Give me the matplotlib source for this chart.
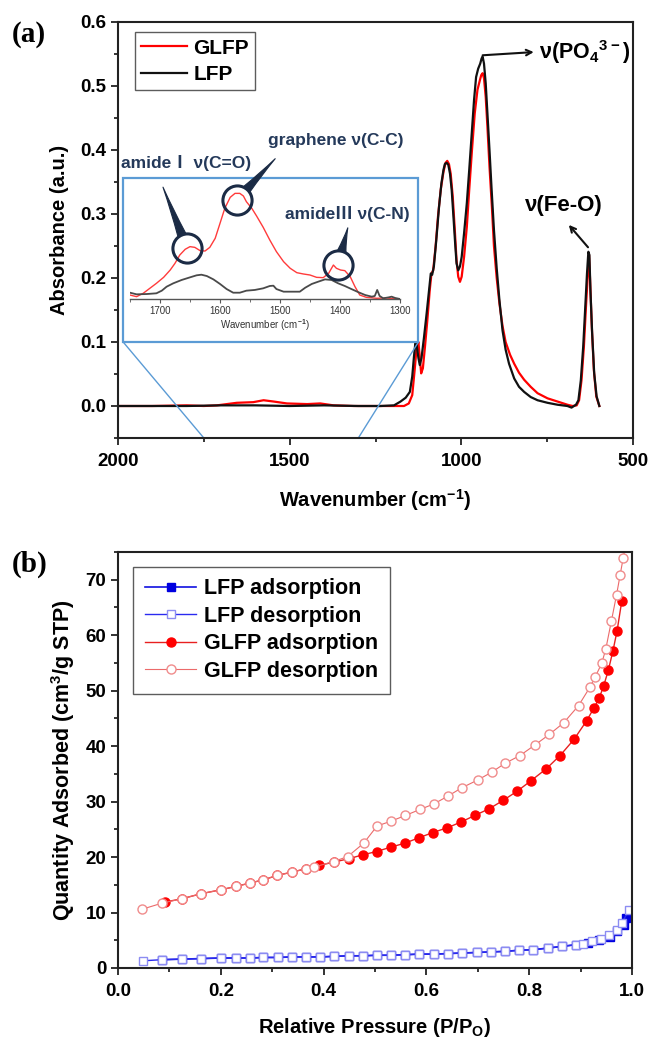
import numpy as np
import matplotlib
matplotlib.use('Agg')
import matplotlib.pyplot as plt
from matplotlib.patches import Rectangle
from matplotlib.ticker import MultipleLocator

plt.rcParams['font.family'] = ['Liberation Sans', 'Noto Sans CJK SC']
plt.rcParams['font.weight'] = 'bold'
plt.rcParams['mathtext.fontset'] = 'custom'
plt.rcParams['mathtext.bf'] = 'Liberation Sans:bold'
plt.rcParams['mathtext.rm'] = 'Liberation Sans:bold'
plt.rcParams['mathtext.default'] = 'bf'

# ---- (a) FTIR spectra ----
lfp_wn = [2000, 1900, 1800, 1700, 1600, 1500, 1400, 1300, 1235, 1196, 1177, 1162, 1150, 1143,
          1138, 1134, 1130, 1125, 1121, 1116, 1109, 1101, 1094, 1089, 1085, 1080, 1073, 1065,
          1058, 1052, 1048, 1043, 1038, 1033, 1028, 1023, 1018, 1014, 1009, 1004, 999, 992,
          984, 977, 969, 963, 957, 951, 945, 941, 938, 934, 929, 924, 918, 912, 905, 897,
          889, 880, 871, 861, 846, 832, 817, 798, 778, 749, 720, 691, 679, 666, 659, 652,
          645, 639, 634, 630, 627, 624, 619, 613, 606, 598]
lfp_abs = [0.0, 0.0, 0.0, 0.001, 0.001, 0.0, 0.001, 0.0, 0.0, 0.001, 0.007, 0.013, 0.022, 0.046,
           0.077, 0.098, 0.095, 0.075, 0.064, 0.075, 0.106, 0.145, 0.181, 0.207, 0.205, 0.218,
           0.259, 0.311, 0.348, 0.369, 0.378, 0.38, 0.377, 0.363, 0.337, 0.296, 0.254, 0.223,
           0.212, 0.218, 0.233, 0.27, 0.317, 0.369, 0.431, 0.478, 0.514, 0.527, 0.535, 0.543,
           0.546, 0.535, 0.504, 0.457, 0.4, 0.34, 0.275, 0.215, 0.165, 0.118, 0.088, 0.066,
           0.043, 0.03, 0.022, 0.014, 0.009, 0.005, 0.002, 0.0, -0.0025, 0.002, 0.009, 0.04,
           0.093, 0.155, 0.207, 0.241, 0.236, 0.181, 0.114, 0.051, 0.015, 0.0]

glfp_wn = [2000, 1900, 1800, 1750, 1712, 1654, 1606, 1576, 1547, 1508, 1449, 1411, 1372, 1314,
           1235, 1187, 1167, 1153, 1143, 1136, 1130, 1125, 1122, 1117, 1112, 1106, 1099, 1092,
           1087, 1082, 1075, 1068, 1060, 1052, 1046, 1041, 1036, 1031, 1025, 1019, 1014, 1009,
           1004, 999, 992, 984, 977, 969, 961, 953, 946, 942, 938, 934, 929, 924, 918, 911,
           905, 897, 889, 880, 871, 858, 846, 832, 817, 798, 778, 749, 720, 691, 676, 664,
           657, 650, 643, 637, 632, 628, 625, 620, 614, 607, 598]
glfp_abs = [0.0, 0.0, 0.001, 0.0, 0.001, 0.005, 0.006, 0.009, 0.007, 0.004, 0.003, 0.004, 0.001, 0.0,
            0.0, 0.0, 0.0, 0.004, 0.017, 0.056, 0.092, 0.1, 0.082, 0.051, 0.059, 0.092, 0.134,
            0.181, 0.207, 0.212, 0.249, 0.296, 0.338, 0.366, 0.38, 0.383, 0.378, 0.363, 0.327,
            0.275, 0.228, 0.202, 0.194, 0.202, 0.233, 0.28, 0.338, 0.4, 0.457, 0.494, 0.509,
            0.517, 0.52, 0.512, 0.483, 0.436, 0.374, 0.311, 0.25, 0.2, 0.16, 0.125, 0.1, 0.08,
            0.066, 0.052, 0.041, 0.03, 0.02, 0.012, 0.007, 0.002, 0.0, 0.001, 0.009, 0.04, 0.093,
            0.155, 0.202, 0.236, 0.197, 0.124, 0.056, 0.015, 0.0]

# inset (1750-1300 cm-1)
ins_glfp_wn = [1750, 1739, 1728, 1717, 1706, 1694, 1683, 1675, 1667, 1658, 1650, 1642, 1633, 1625,
               1617, 1608, 1600, 1592, 1583, 1575, 1567, 1561, 1556, 1547, 1539, 1528, 1517, 1506,
               1494, 1483, 1472, 1461, 1450, 1439, 1428, 1419, 1411, 1406, 1399, 1392, 1383, 1375,
               1367, 1356, 1339, 1322, 1311, 1300]
ins_glfp_abs = [0.00039, 0.00023, 0.00056, 0.00105, 0.00154, 0.00213, 0.00285, 0.00351, 0.00433,
                0.00489, 0.00515, 0.00508, 0.00475, 0.00472, 0.00508, 0.00597, 0.00744, 0.00892,
                0.0100, 0.01039, 0.01039, 0.01013, 0.00957, 0.00892, 0.00816, 0.00705, 0.0058,
                0.00466, 0.00367, 0.00302, 0.00259, 0.00246, 0.00236, 0.00213, 0.0021, 0.00252,
                0.00334, 0.00302, 0.00285, 0.00279, 0.0022, 0.00121, 0.00039, 0.00016, 0.00007,
                0.0001, 0.00003, 0.0]
ins_lfp_wn = [1750, 1739, 1722, 1706, 1697, 1689, 1678, 1664, 1650, 1639, 1631, 1622, 1611, 1600,
              1589, 1578, 1567, 1556, 1542, 1528, 1517, 1511, 1506, 1494, 1478, 1467, 1458, 1447,
              1436, 1425, 1414, 1403, 1392, 1381, 1369, 1358, 1347, 1342, 1338, 1334, 1328, 1319,
              1314, 1308, 1300]
ins_lfp_abs = [0.00062, 0.00046, 0.00049, 0.00056, 0.00082, 0.00121, 0.00154, 0.00187, 0.00213,
               0.00233, 0.00239, 0.00226, 0.00193, 0.00148, 0.00098, 0.00062, 0.00062, 0.00082,
               0.00089, 0.00105, 0.00128, 0.00131, 0.00098, 0.00072, 0.00072, 0.00072, 0.00111,
               0.00148, 0.00171, 0.00193, 0.00187, 0.00154, 0.00128, 0.00098, 0.00066, 0.00039,
               0.00023, 0.0003, 0.00089, 0.0003, 0.00007, 0.00016, 0.00023, 0.0001, 0.0]

# callouts: (circle centre wn, abs, tail tip wn, abs)
callouts = [(1655, 0.00502, 1695, 0.0110),
            (1572, 0.00974, 1508, 0.0138),
            (1403, 0.00334, 1387, 0.0070)]

# ---- (b) N2 isotherms ----
lfp_ads_p = [0.086, 0.125, 0.162, 0.2, 0.229, 0.256, 0.283, 0.312, 0.339, 0.366, 0.393, 0.421,
             0.449, 0.476, 0.504, 0.531, 0.559, 0.586, 0.614, 0.642, 0.669, 0.698, 0.725, 0.753,
             0.78, 0.808, 0.837, 0.864, 0.891, 0.914, 0.935, 0.957, 0.971, 0.984, 0.988]
lfp_ads_q = [1.5, 1.6, 1.7, 1.8, 1.8, 1.8, 1.9, 1.9, 2.0, 2.0, 2.0, 2.1,
             2.2, 2.2, 2.3, 2.3, 2.4, 2.5, 2.5, 2.6, 2.7, 2.8, 2.9, 3.0,
             3.2, 3.3, 3.6, 3.9, 4.2, 4.5, 5.1, 5.6, 6.6, 7.8, 9.0]
lfp_des_p = [0.049, 0.086, 0.125, 0.162, 0.2, 0.229, 0.256, 0.283, 0.312, 0.339, 0.366, 0.393,
             0.421, 0.449, 0.476, 0.504, 0.531, 0.559, 0.586, 0.614, 0.642, 0.669, 0.698, 0.725,
             0.753, 0.78, 0.808, 0.837, 0.864, 0.891, 0.904, 0.922, 0.939, 0.955, 0.97, 0.98, 0.994]
lfp_des_q = [1.3, 1.5, 1.6, 1.7, 1.8, 1.8, 1.8, 1.9, 1.9, 2.0, 2.0, 2.0,
             2.1, 2.2, 2.2, 2.3, 2.3, 2.4, 2.5, 2.5, 2.6, 2.7, 2.8, 2.9,
             3.0, 3.2, 3.3, 3.6, 3.9, 4.2, 4.4, 4.8, 5.2, 6.0, 6.9, 8.1, 10.4]
glfp_ads_p = [0.092, 0.125, 0.162, 0.2, 0.229, 0.256, 0.283, 0.31, 0.339, 0.366, 0.392, 0.42,
              0.449, 0.476, 0.503, 0.531, 0.558, 0.586, 0.612, 0.641, 0.667, 0.694, 0.722, 0.749,
              0.777, 0.804, 0.833, 0.86, 0.887, 0.912, 0.926, 0.936, 0.945, 0.954, 0.963, 0.971, 0.98]
glfp_ads_q = [11.9, 12.5, 13.4, 14.1, 14.7, 15.3, 15.9, 16.7, 17.3, 17.9, 18.5, 19.1,
              19.7, 20.4, 21.0, 21.8, 22.5, 23.5, 24.4, 25.3, 26.3, 27.5, 28.7, 30.2,
              31.9, 33.8, 35.9, 38.3, 41.2, 44.6, 46.9, 48.6, 50.9, 53.7, 57.2, 60.8, 66.1]
glfp_des_p = [0.047, 0.086, 0.125, 0.162, 0.2, 0.229, 0.256, 0.283, 0.31, 0.339, 0.366, 0.381,
              0.42, 0.447, 0.478, 0.504, 0.532, 0.559, 0.588, 0.615, 0.642, 0.669, 0.7, 0.727,
              0.753, 0.782, 0.811, 0.839, 0.867, 0.896, 0.918, 0.928, 0.941, 0.949, 0.96, 0.97,
              0.977, 0.983, 0.99]
glfp_des_q = [10.6, 11.7, 12.5, 13.4, 14.1, 14.7, 15.3, 15.9, 16.7, 17.3, 17.9, 18.2,
              19.2, 20.1, 22.5, 25.6, 26.5, 27.5, 28.6, 29.6, 31.0, 32.5, 33.9, 35.3,
              36.9, 38.3, 40.2, 42.1, 44.2, 47.3, 50.6, 52.4, 54.9, 57.5, 62.6, 67.3,
              70.9, 74.0, 77.5]

W, H = 653, 1043
fig = plt.figure(figsize=(W / 100, H / 100), dpi=100)


def frac(x0, y0, x1, y1):
    return [x0 / W, 1 - y1 / H, (x1 - x0) / W, (y1 - y0) / H]


def style_axes(ax):
    for s in ax.spines.values():
        s.set_linewidth(1.5)
        s.set_color('#222222')
    ax.tick_params(which='major', direction='out', length=5, width=1.3, labelsize=13.5,
                   top=False, right=False, colors='#222222')
    ax.tick_params(axis='x', which='major', pad=6)
    ax.tick_params(which='minor', direction='out', length=3, width=1.1, top=False, right=False)
    for lab in ax.get_xticklabels() + ax.get_yticklabels():
        lab.set_fontweight('bold')
        lab.set_color('black')


# ---------- panel (a) ----------
ax1 = fig.add_axes(frac(118, 22, 633, 438))
ax1.plot(glfp_wn, glfp_abs, color='#ff0000', lw=1.6, label='GLFP')
ax1.plot(lfp_wn, lfp_abs, color='#111111', lw=1.6, label='LFP')
ax1.set_xlim(2000, 500)
ax1.set_ylim(-0.05, 0.6)
ax1.xaxis.set_major_locator(MultipleLocator(500))
ax1.xaxis.set_minor_locator(MultipleLocator(250))
ax1.yaxis.set_major_locator(MultipleLocator(0.1))
ax1.yaxis.set_minor_locator(MultipleLocator(0.05))
ax1.yaxis.set_major_formatter(plt.FormatStrFormatter('%.1f'))
style_axes(ax1)
ax1.set_xlabel('Wavenumber (cm$^{-1}$)', fontsize=14.5, fontweight='bold', labelpad=12)
ax1.set_ylabel('Absorbance (a.u.)', fontsize=14.5, fontweight='bold', labelpad=8)
leg = ax1.legend(loc='upper left', bbox_to_anchor=(0.033, 0.975), fontsize=15, frameon=True,
                 fancybox=False, edgecolor='#333333', handlelength=2.2, handletextpad=0.3,
                 borderpad=0.3, labelspacing=0.35, borderaxespad=0)
leg.get_frame().set_linewidth(1.0)

# zoom box and connectors
ins_lo, ins_hi = 1750, 1300
box = Rectangle((1985, 0.1), 1125 - 1985, 0.357 - 0.1, fill=False, ec='#5b9bd5', lw=1.6, zorder=5)
ax1.add_patch(box)
ax1.plot([1985, ins_lo], [0.1, -0.05], color='#5b9bd5', lw=1.0, clip_on=False)
ax1.plot([1125, ins_hi], [0.1, -0.05], color='#5b9bd5', lw=1.0, clip_on=False)

# peak annotations
ax1.annotate('', xy=(789, 0.553), xytext=(938, 0.548),
             arrowprops=dict(arrowstyle='->', color='#111111', lw=1.5, shrinkA=0, shrinkB=0))
ax1.text(775, 0.553, 'ν(PO$_4$$^{3-}$)', fontsize=15.5, fontweight='bold', ha='left', va='center')
ax1.annotate('', xy=(687, 0.283), xytext=(631, 0.248),
             arrowprops=dict(arrowstyle='->', color='#111111', lw=1.5, shrinkA=0, shrinkB=0))
ax1.text(701, 0.314, 'ν(Fe-O)', fontsize=16, fontweight='bold', ha='center', va='center')

# inset
axi = fig.add_axes(frac(130, 177, 400, 299))
axi.patch.set_alpha(0)
axi.plot(ins_glfp_wn, ins_glfp_abs, color='#ff3b3b', lw=1.0)
axi.plot(ins_lfp_wn, ins_lfp_abs, color='#4a4a4a', lw=1.3)
axi.set_xlim(ins_lo, ins_hi)
axi.set_ylim(0, 0.012)
for s in ['top', 'right', 'left']:
    axi.spines[s].set_visible(False)
axi.spines['bottom'].set_color('#555555')
axi.spines['bottom'].set_linewidth(1.0)
axi.set_yticks([])
axi.xaxis.set_major_locator(MultipleLocator(100))
axi.xaxis.set_minor_locator(MultipleLocator(50))
axi.tick_params(axis='x', which='major', direction='out', length=3, width=0.8, labelsize=7,
                colors='#555555', labelcolor='#333333', pad=2)
axi.tick_params(axis='x', which='minor', direction='out', length=2, width=0.6, colors='#555555')
for lab in axi.get_xticklabels():
    lab.set_fontweight('normal')
axi.set_xlabel('Wavenumber (cm$^{-1}$)', fontsize=7, fontweight='normal', color='#333333', labelpad=1)

navy = '#1b2b45'
for cx, cy, tx, ty in callouts:
    axi.annotate('', xy=(tx, ty), xytext=(cx, cy), annotation_clip=False,
                 arrowprops=dict(arrowstyle='wedge,tail_width=0.6,shrink_factor=0.4',
                                 fc=navy, ec=navy, lw=0.8, shrinkA=10.5, shrinkB=0))
    axi.plot(cx, cy, 'o', ms=21, mfc='none', mec=navy, mew=2.2, clip_on=False)

note_kw = dict(fontsize=12.5, fontweight='bold', color='#24395a', va='center',
               family=['Liberation Sans', 'Noto Sans CJK SC'])
fig.text(121 / W, 1 - 163 / H, 'amideⅠ ν(C=O)', **note_kw)
fig.text(268 / W, 1 - 140 / H, 'graphene ν(C-C)', **note_kw)
fig.text(285 / W, 1 - 214 / H, 'amideⅢ ν(C-N)', **note_kw)

# ---------- panel (b) ----------
ax2 = fig.add_axes(frac(118, 552, 632, 968))
ax2.plot(lfp_ads_p, lfp_ads_q, '-s', color='#1010e0', lw=1.2, ms=5.5, mfc='#0000e0', mec='#0000e0',
         label='LFP adsorption')
ax2.plot(lfp_des_p, lfp_des_q, '-s', color='#2a2af0', lw=1.0, ms=5.5, mfc='white', mec='#8c8cf2',
         mew=1.0, label='LFP desorption')
ax2.plot(glfp_ads_p, glfp_ads_q, '-o', color='#e82020', lw=1.0, ms=6.5, mfc='#ff0000', mec='#ff0000',
         label='GLFP adsorption')
ax2.plot(glfp_des_p, glfp_des_q, '-o', color='#ec6a6a', lw=0.8, ms=6.5, mfc='white', mec='#f08c8c',
         mew=1.0, label='GLFP desorption')
ax2.set_xlim(0, 1.0)
ax2.set_ylim(0, 75)
ax2.xaxis.set_major_locator(MultipleLocator(0.2))
ax2.xaxis.set_minor_locator(MultipleLocator(0.1))
ax2.yaxis.set_major_locator(MultipleLocator(10))
ax2.yaxis.set_minor_locator(MultipleLocator(5))
ax2.xaxis.set_major_formatter(plt.FormatStrFormatter('%.1f'))
style_axes(ax2)
ax2.set_xlabel('Relative Pressure (P/P$_O$)', fontsize=14.5, fontweight='bold', labelpad=11)
ax2.set_ylabel('Quantity Adsorbed (cm$^3$/g STP)', fontsize=15.5, fontweight='bold', labelpad=6)
leg2 = ax2.legend(loc='upper left', bbox_to_anchor=(0.029, 0.965), fontsize=15.5, frameon=True,
                  fancybox=False, edgecolor='#333333', handlelength=2.4, handletextpad=0.35,
                  borderpad=0.55, labelspacing=0.3, borderaxespad=0)
leg2.get_frame().set_linewidth(1.0)

fig.text(12 / W, 1 - 34 / H, '(a)', fontsize=21, fontweight='bold', family='Liberation Serif', va='center')
fig.text(12 / W, 1 - 564 / H, '(b)', fontsize=21, fontweight='bold', family='Liberation Serif', va='center')

fig.savefig('out.png', dpi=100)
